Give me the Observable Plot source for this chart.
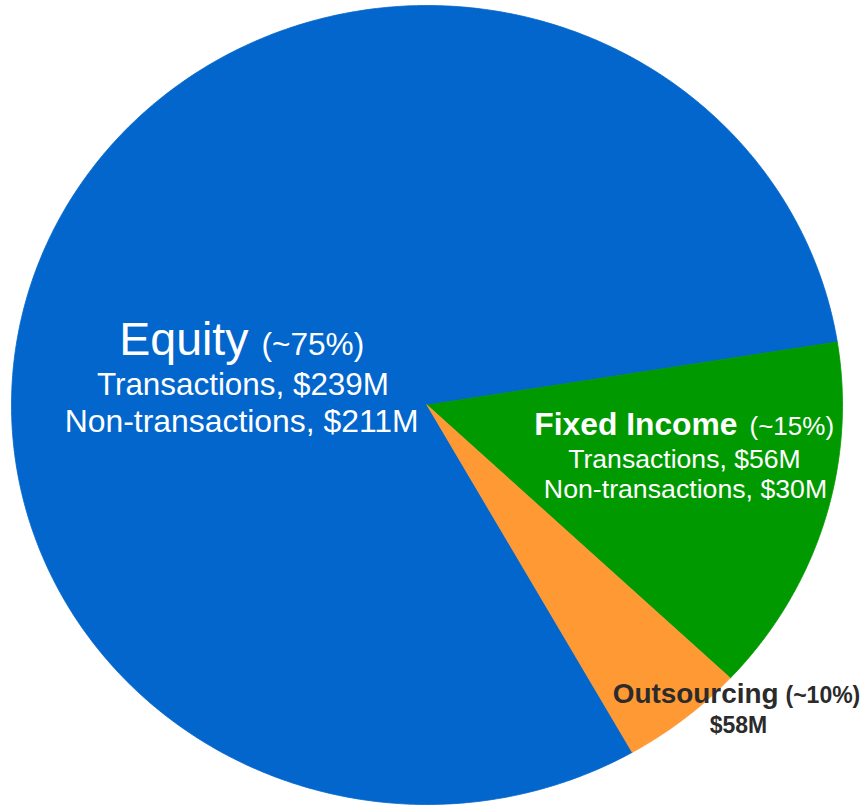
<!DOCTYPE html>
<html>
<head>
<meta charset="utf-8">
<script src="https://cdn.jsdelivr.net/npm/d3@7"></script>
<script src="https://cdn.jsdelivr.net/npm/@observablehq/plot@0.6"></script>
<style>
  html, body { margin: 0; padding: 0; background: #ffffff; }
  #chart { width: 867px; height: 806px; }
</style>
</head>
<body>
<div id="chart"></div>
<script>
// ---- data ----
const segments = ["Equity", "Fixed Income", "Outsourcing"];
const shares = [80.7, 14.5, 4.8];               // slice sizes as drawn (%)
const shareLabels = ["(~75%)", "(~15%)", "(~10%)"];
const transactions = [239, 56, null];           // $M
const nonTransactions = [211, 30, null];        // $M
const totals = [null, null, 58];                // $M
const colors = ["#0366cc", "#009900", "#ff9933"];

// ---- pie geometry (computed from the data) ----
const startDeg = 150.4;
const pie = d3.pie().sort(null)
  .startAngle(startDeg * Math.PI / 180)
  .endAngle(startDeg * Math.PI / 180 + 2 * Math.PI)
  .value(d => d);
const arcs = pie(shares);
const slicePoints = [];
arcs.forEach((a, i) => {
  const seg = segments[i];
  slicePoints.push({segment: seg, x: 0, y: 0});
  const n = Math.max(4, Math.ceil((a.endAngle - a.startAngle) / (Math.PI / 360)));
  for (let k = 0; k <= n; k++) {
    const t = a.startAngle + (a.endAngle - a.startAngle) * k / n;
    slicePoints.push({segment: seg, x: Math.sin(t), y: Math.cos(t)});
  }
  slicePoints.push({segment: seg, x: 0, y: 0});
});

// ---- label layout (positions in pie-radius units) ----
const font = "'Liberation Sans', Arial, Helvetica, sans-serif";
const labels = [
  {text: segments[0], x: -0.4296, y: 0.1264, size: 46.5, weight: "normal", anchor: "end", fill: "#ffffff"},
  {text: shareLabels[0], x: -0.3983, y: 0.1264, size: 31.6, weight: "normal", anchor: "start", fill: "#ffffff"},
  {text: `Transactions, $${transactions[0]}M`, x: -0.443, y: 0.0238, size: 31.4, weight: "normal", anchor: "middle", fill: "#ffffff"},
  {text: `Non-transactions, $${nonTransactions[0]}M`, x: -0.446, y: -0.0688, size: 31.9, weight: "normal", anchor: "middle", fill: "#ffffff"},
  {text: segments[1], x: 0.7473, y: -0.0763, size: 31.8, weight: "bold", anchor: "end", fill: "#ffffff"},
  {text: shareLabels[1], x: 0.7762, y: -0.0763, size: 26, weight: "normal", anchor: "start", fill: "#ffffff"},
  {text: `Transactions, $${transactions[1]}M`, x: 0.6197, y: -0.1589, size: 26.6, weight: "normal", anchor: "middle", fill: "#ffffff"},
  {text: `Non-transactions, $${nonTransactions[1]}M`, x: 0.6222, y: -0.234, size: 26.7, weight: "normal", anchor: "middle", fill: "#ffffff"},
  {text: segments[2], x: 0.846, y: -0.7447, size: 27.9, weight: "bold", anchor: "end", fill: "#2b2b2b"},
  {text: shareLabels[2], x: 0.8628, y: -0.7447, size: 23, weight: "bold", anchor: "start", fill: "#2b2b2b"},
  {text: `$${totals[2]}M`, x: 0.7497, y: -0.8198, size: 23, weight: "bold", anchor: "middle", fill: "#2b2b2b"}
];

function textMark(d) {
  return Plot.text([d], {
    x: "x", y: "y", text: "text",
    fontSize: d.size, fontWeight: d.weight, textAnchor: d.anchor,
    fill: d.fill, lineAnchor: "bottom", fontFamily: font
  });
}

const chart = Plot.plot({
  width: 867,
  height: 806,
  marginLeft: 11,
  marginRight: 25,
  marginTop: 5,
  marginBottom: 2,
  x: {domain: [-1, 1], axis: null},
  y: {domain: [-1, 1], axis: null},
  color: {domain: segments, range: colors},
  style: {fontFamily: font, background: "#ffffff"},
  marks: [
    Plot.line(slicePoints, {
      x: "x", y: "y", z: "segment",
      fill: "segment", stroke: "segment", strokeWidth: 0.8,
      curve: "linear"
    }),
    ...labels.map(textMark)
  ]
});
document.getElementById("chart").appendChild(chart);
</script>
</body>
</html>
